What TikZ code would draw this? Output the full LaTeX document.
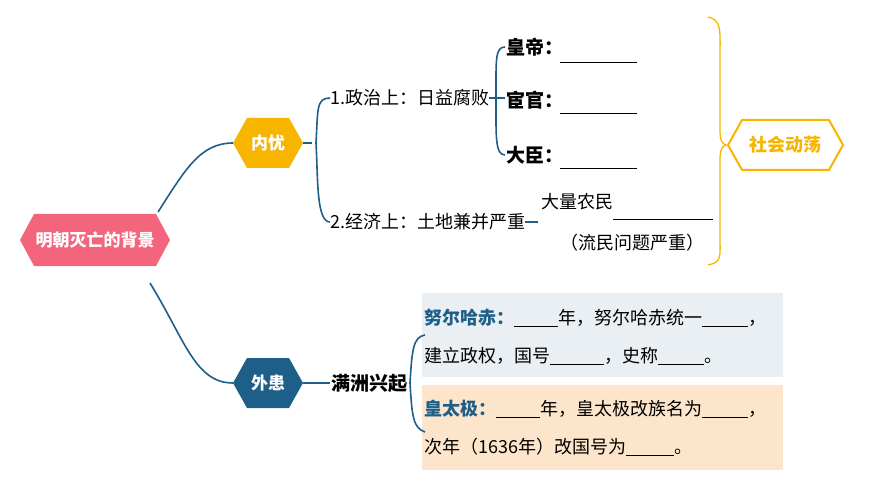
\documentclass[tikz,border=0pt]{standalone}
\usepackage{fontspec}
\setmainfont{Noto Sans CJK SC}
\definecolor{pinkc}{HTML}{F2657C}
\definecolor{yel}{HTML}{F7B500}
\definecolor{dblue}{HTML}{1E5F8A}
\definecolor{lblue}{HTML}{E9EFF2}
\definecolor{lorange}{HTML}{FDE5CC}
\newcommand{\blank}[1]{\underline{\hspace{#1pt}}}
\newcommand{\hexa}[6]{% name,x,y,w,h,style
  \fill[#6] (#2-#4/2,#3) -- ++(14,#5/2) -- (#2+#4/2-14,#3+#5/2) -- (#2+#4/2,#3) -- (#2+#4/2-14,#3-#5/2) -- (#2-#4/2+14,#3-#5/2) -- cycle;
  \coordinate (#1w) at (#2-#4/2,#3); \coordinate (#1e) at (#2+#4/2,#3);}
\tikzset{x=1pt,y=-1pt,
 conn/.style={draw=dblue,line width=1.6pt},
 txt/.style={font=\fontsize{18}{20}\selectfont,inner sep=0pt,anchor=west},
 btxt/.style={txt,font=\fontsize{19}{20}\selectfont\bfseries},
 hx/.style={font=\fontsize{17}{20}\selectfont\bfseries,text=white}}
\begin{document}
\begin{tikzpicture}
\useasboundingbox (0,0) rectangle (870,489);
% boxes
\fill[lblue] (422,293) rectangle (783,377);
\fill[lorange] (422,385) rectangle (783,470);
% hexagons
\hexa{r}{95}{240}{150}{52}{pinkc}
\node[hx] (root) at (95,240) {明朝灭亡的背景};
\hexa{n}{268}{143}{70}{50}{yel}
\node[hx] (ny) at (268,143) {内忧};
\hexa{w}{268}{383}{70}{50}{dblue}
\node[hx] (wh) at (268,383) {外患};
\draw[yel,line width=2pt,fill=white] (728,145) -- (742,120) -- (829,120) -- (843,145) -- (829,170) -- (742,170) -- cycle;
\node[font=\fontsize{18}{20}\selectfont\bfseries,text=yel] (sh) at (785,145) {社会动荡};
% root curves
\draw[conn] (158,212) .. controls (185,170) and (200,143) .. (nw);
\draw[conn] (150,283) .. controls (185,340) and (195,383) .. (ww);
% internal
\node[txt] (zz) at (330,98) {1.政治上：日益腐败};
\node[txt] (jj) at (330,222) {2.经济上：土地兼并严重};
\draw[conn] (ne) -- (312,143);
\draw[conn] (330,98) .. controls (316,98) and (318,110) .. (316,143) .. controls (318,176) and (316,222) .. (330,222);
\draw[conn] (zz.east) -- (498,98);
\draw[conn] (505,47) .. controls (495,47) and (496,60) .. (496,98) .. controls (496,136) and (495,155) .. (505,155);
\draw[conn] (496,98) -- (505,98);
\node[btxt] (hd) at (506,47) {皇帝：};
\node[btxt] (hg) at (506,100) {宦官：};
\node[btxt] (dc) at (506,155) {大臣：};
\draw[black,line width=0.8pt] (560,62) -- (637,62) (560,113) -- (637,113) (560,168) -- (637,168);
\draw[conn] (jj.east) -- (538,222);
\node[txt] (nm) at (541,202) {大量农民};
\draw[black,line width=0.8pt] (613,219) -- (713,219);
\node[txt] (lm) at (560,243) {（流民问题严重）};
% big brace
\draw[yel,line width=1.3pt] (708,17) .. controls (722,20) and (720,30) .. (720,60) -- (720,130) .. controls (720,140) and (722,144) .. (726,145) .. controls (722,146) and (720,150) .. (720,160) -- (720,235) .. controls (720,258) and (722,262) .. (708,265);
% external
\draw[conn] (we) -- (330,383);
\node[btxt] (mz) at (331,383) {满洲兴起};
\draw[conn] (mz.east) -- (405,383);
\draw[conn] (425,335) .. controls (413,337) and (412,350) .. (410,383) .. controls (412,416) and (413,428) .. (425,432);
\node[txt,align=left,anchor=north west,font=\fontsize{18}{38}\selectfont] (nrh) at (424,309) {{\bfseries\color{dblue}努尔哈赤：}\blank{44}年，努尔哈赤统一\blank{46}，\\建立政权，国号\blank{54}，史称\blank{46}。};
\node[txt,align=left,anchor=north west,font=\fontsize{18}{38}\selectfont] (htj) at (424,400) {{\bfseries\color{dblue}皇太极：}\blank{44}年，皇太极改族名为\blank{46}，\\次年（1636年）改国号为\blank{48}。};
\end{tikzpicture}
\end{document}
